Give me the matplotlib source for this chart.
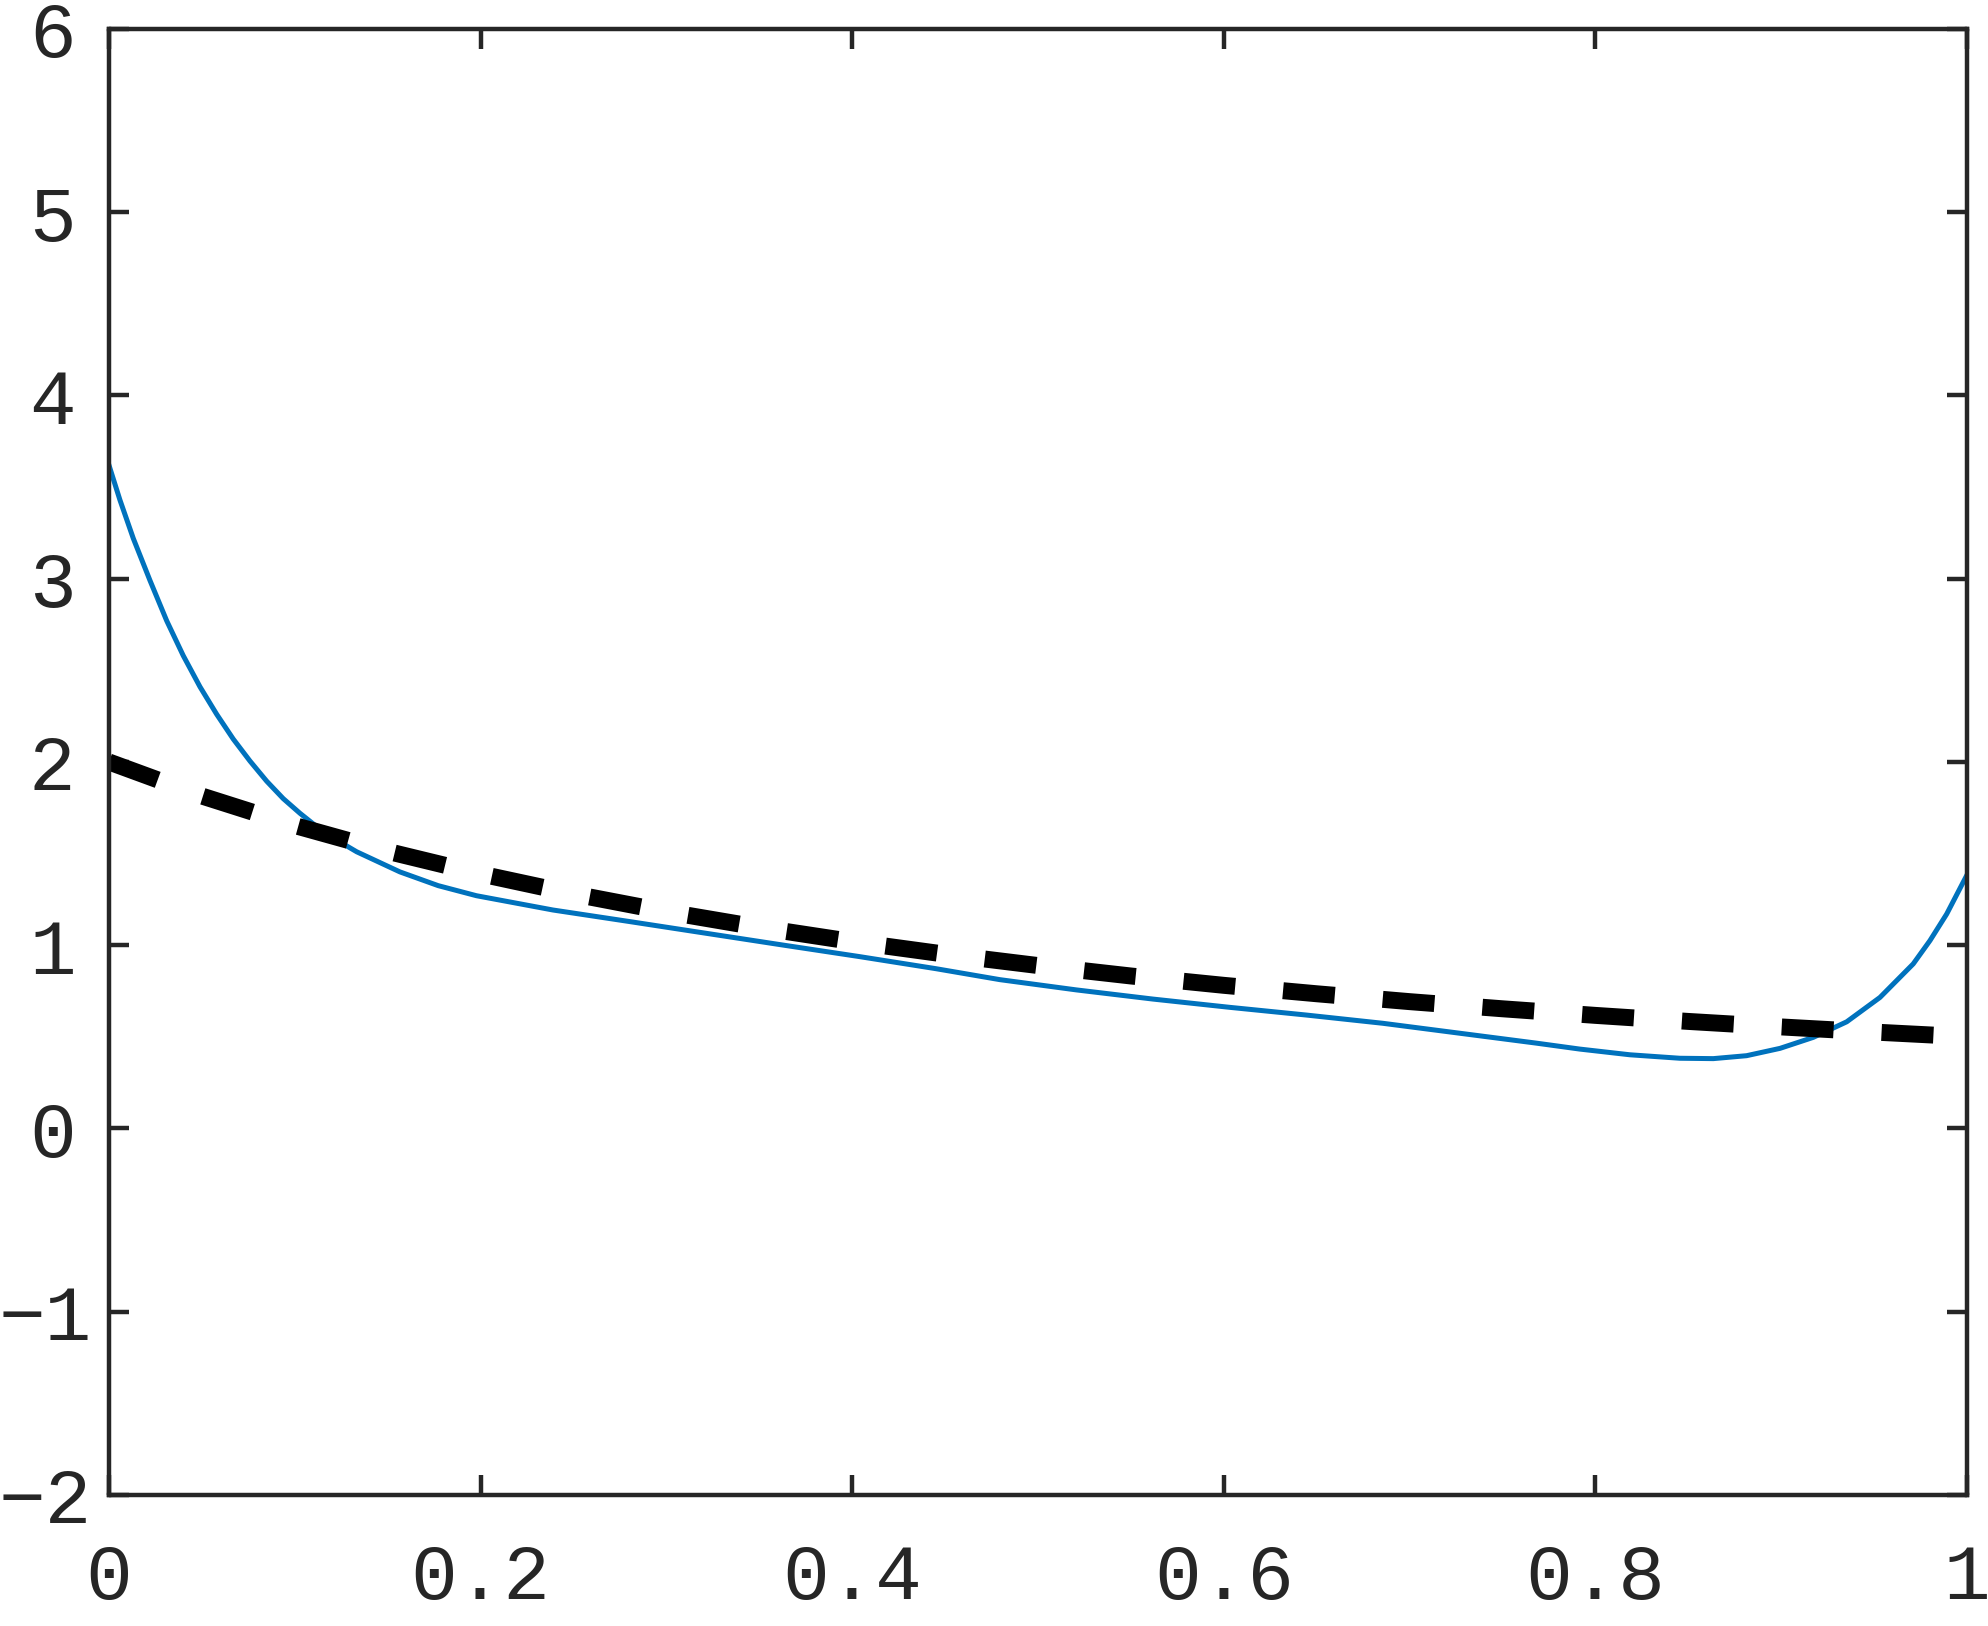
import matplotlib
matplotlib.use("Agg")
import matplotlib.pyplot as plt
from matplotlib.transforms import ScaledTranslation

# solid curve
x_curve = [0.0, 0.0059, 0.0131, 0.0221, 0.0311, 0.040, 0.049, 0.058, 0.0669,
           0.0759, 0.0849, 0.0938, 0.1028, 0.1117, 0.1207, 0.1333, 0.1566,
           0.1772, 0.1978, 0.239, 0.2802, 0.3214, 0.3626, 0.4038, 0.445,
           0.4795, 0.5207, 0.5619, 0.6031, 0.6443, 0.6855, 0.7267, 0.7679,
           0.7917, 0.8186, 0.8455, 0.8635, 0.8814, 0.8994, 0.9173, 0.9353,
           0.9532, 0.9711, 0.9801, 0.9891, 1.0]
y_curve = [3.62, 3.43, 3.22, 2.99, 2.77, 2.58, 2.41, 2.26, 2.125,
           2.005, 1.895, 1.80, 1.72, 1.648, 1.585, 1.51, 1.40,
           1.325, 1.27, 1.192, 1.129, 1.065, 1.001, 0.938, 0.872,
           0.812, 0.756, 0.706, 0.661, 0.619, 0.574, 0.52, 0.466,
           0.433, 0.402, 0.383, 0.381, 0.397, 0.437, 0.497, 0.582,
           0.715, 0.898, 1.025, 1.17, 1.383]

# dashed reference line
x_ref = [0.0, 0.05, 0.1, 0.15, 0.2, 0.25, 0.3, 0.35, 0.4, 0.45, 0.5,
         0.55, 0.6, 0.65, 0.7, 0.75, 0.8, 0.85, 0.9, 0.95, 1.0]
y_ref = [2.0, 1.814, 1.653, 1.512, 1.389, 1.28, 1.183, 1.097, 1.02, 0.951, 0.889,
         0.832, 0.781, 0.735, 0.692, 0.653, 0.617, 0.584, 0.554, 0.526, 0.5]

x_ticks = [0, 0.2, 0.4, 0.6, 0.8, 1]
x_ticklabels = ["0", "0.2", "0.4", "0.6", "0.8", "1"]
y_ticks = [-2, -1, 0, 1, 2, 3, 4, 5, 6]
y_ticklabels = ["\u22122", "\u22121", "0", "1", "2", "3", "4", "5", "6"]

axis_col = "#262626"

fig = plt.figure(figsize=(9.94, 8.13), dpi=200)
ax = fig.add_axes([0.0548, 0.0806, 0.9346, 0.9016])

ax.plot(x_curve, y_curve, color="#0072BD", linewidth=1.8)
ref_line, = ax.plot(x_ref, y_ref, color="black", linewidth=6.1)
ref_line.set_dashes((18.7 / 6.1, 17.3 / 6.1))
ref_line.set_dash_capstyle("butt")

ax.set_xlim(0, 1)
ax.set_ylim(-2, 6)
ax.set_xticks(x_ticks)
ax.set_xticklabels(x_ticklabels)
ax.set_yticks(y_ticks)
ax.set_yticklabels(y_ticklabels)

for s in ax.spines.values():
    s.set_color(axis_col)
    s.set_linewidth(1.6)

ax.tick_params(direction="in", length=7.2, width=1.6, color=axis_col,
               top=True, right=True, labelcolor=axis_col, labelsize=28)
ax.tick_params(axis="x", pad=17)
ax.tick_params(axis="y", pad=12)
for lab in ax.get_xticklabels() + ax.get_yticklabels():
    lab.set_family("Liberation Mono")

# negative labels sit a bit closer to the axis, as in the original
shift = ScaledTranslation(0.08, 0, fig.dpi_scale_trans)
for lab in ax.get_yticklabels():
    if lab.get_text().startswith("\u2212"):
        lab.set_transform(lab.get_transform() + shift)

fig.savefig("out.png", dpi=200)
